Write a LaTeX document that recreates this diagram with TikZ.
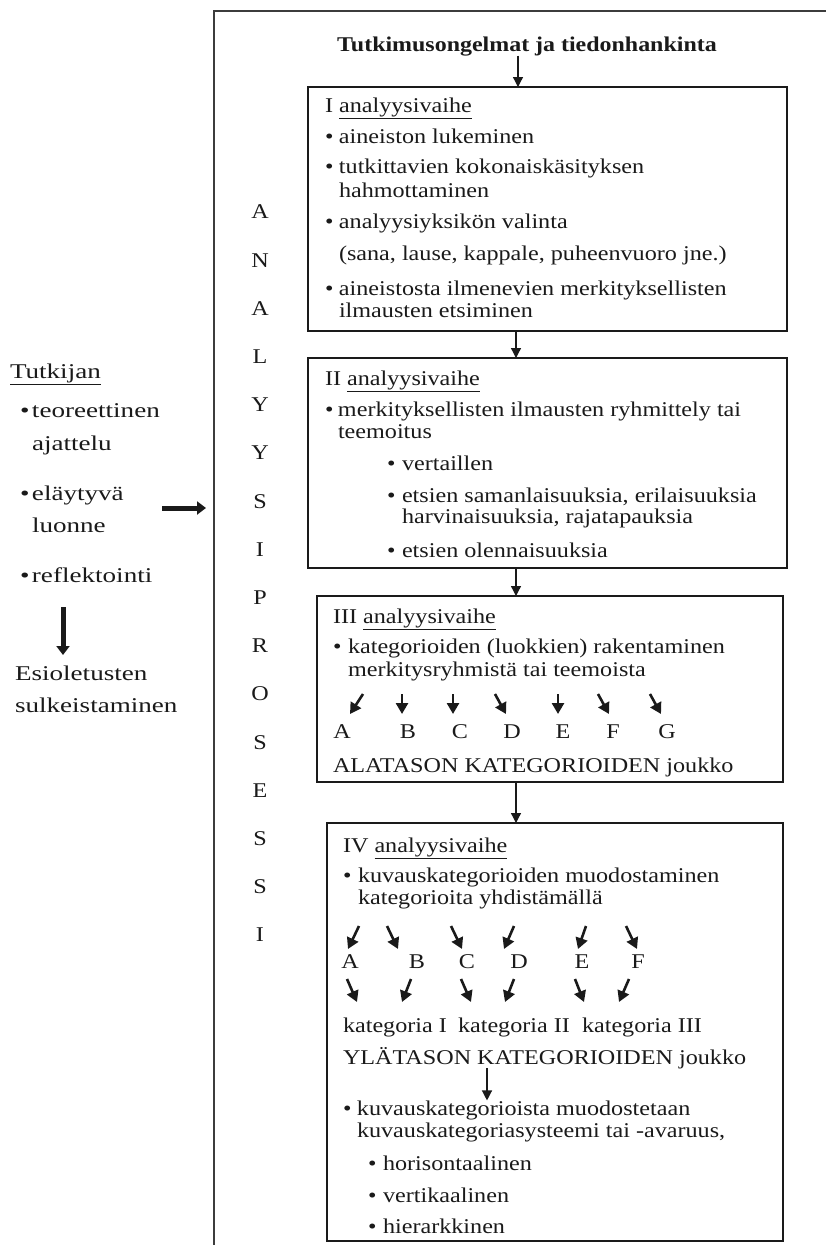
\documentclass[tikz,border=0pt]{standalone}
\usepackage{fontspec}
\setmainfont{Liberation Serif}
\newfontfamily\bodyf[FakeStretch=1.15]{Liberation Serif}
\newfontfamily\leftf[FakeStretch=1.29]{Liberation Serif}
\usetikzlibrary{arrows.meta}
\definecolor{ink}{HTML}{1A1A1A}
\newcommand{\bul}[1]{\makebox[#1pt][l]{\textbullet}}
\begin{document}
\begin{tikzpicture}[x=1pt,y=-1pt,
  txt/.style={anchor=base west,inner sep=0pt,outer sep=0pt,font=\bodyf\fontsize{21}{24}\selectfont,text=ink},
  ltxt/.style={txt,font=\leftf\fontsize{21}{24}\selectfont},
  letter/.style={anchor=base,inner sep=0pt,outer sep=0pt,font=\bodyf\fontsize{21}{24}\selectfont,text=ink},
  vl/.style={anchor=center,inner sep=0pt,outer sep=0pt,font=\bodyf\fontsize{21}{24}\selectfont,text=ink},
  phase/.style={draw=ink,line width=2.5pt,inner sep=0pt,outer sep=0pt,anchor=north west},
  flow/.style={draw=ink,line width=1.3pt,-{Triangle[length=10pt,width=10pt]}},
  small/.style={draw=ink,line width=2.6pt,-{Triangle[length=11pt,width=12pt]}},
  fat/.style={draw=ink,line width=5pt,-{Triangle[length=9pt,width=13pt]}},
]
\useasboundingbox (0,0) rectangle (826,1245);
\fill[white] (0,0) rectangle (826,1245);
\clip (0,0) rectangle (826,1245);

% outer frame (only left and top edges inside the page)
\node[draw=ink!85,line width=2.2pt,inner sep=0pt,outer sep=0pt,anchor=north west,minimum width=700,minimum height=1300] (frame) at (214,11) {};

% title
\node[anchor=base,inner sep=0pt,outer sep=0pt,font=\bfseries\fontsize{21}{24}\selectfont\addfontfeature{FakeStretch=1.14},text=ink] (title) at (527,51) {Tutkimusongelmat ja tiedonhankinta};

% phase boxes
\node[phase,minimum width=479,minimum height=244] (p1) at (308,87) {};
\node[phase,minimum width=479,minimum height=210] (p2) at (308,358) {};
\node[phase,minimum width=466,minimum height=186] (p3) at (317,596) {};
\node[phase,minimum width=456,minimum height=418] (p4) at (327,823) {};

\coordinate (cx0) at (518,0);
\coordinate (cx1) at (516,0);
\coordinate (cx2) at (487,0);
\draw[flow] (title.south -| cx0) -- (p1.north -| cx0);
\draw[flow] (p1.south -| cx1) -- (p2.north -| cx1);
\draw[flow] (p2.south -| cx1) -- (p3.north -| cx1);
\draw[flow] (p3.south -| cx1) -- (p4.north -| cx1);

% box I
\node[txt] (h1) at (325,112) {I \underline{analyysivaihe}};
\node[txt] (a1) at (325,143) {\bul{14}aineiston lukeminen};
\node[txt] (a2) at (325,173) {\bul{14}tutkittavien kokonaiskäsityksen};
\node[txt] (a3) at (339,197) {hahmottaminen};
\node[txt] (a4) at (325,228) {\bul{14}analyysiyksikön valinta};
\node[txt] (a5) at (339,260) {(sana, lause, kappale, puheenvuoro jne.)};
\node[txt] (a6) at (325,295) {\bul{14}aineistosta ilmenevien merkityksellisten};
\node[txt] (a7) at (339,317) {ilmausten etsiminen};

% box II
\node[txt] (h2) at (325,385) {II \underline{analyysivaihe}};
\node[txt] (b1) at (325,416) {\bul{13}merkityksellisten ilmausten ryhmittely tai};
\node[txt] (b2) at (338,438) {teemoitus};
\node[txt] (b3) at (387,470) {\bul{15}vertaillen};
\node[txt] (b4) at (387,502) {\bul{15}etsien samanlaisuuksia, erilaisuuksia};
\node[txt] (b5) at (402,523) {harvinaisuuksia, rajatapauksia};
\node[txt] (b6) at (387,557) {\bul{15}etsien olennaisuuksia};

% box III
\node[txt] (h3) at (333,623) {III \underline{analyysivaihe}};
\node[txt] (c1) at (333,653) {\bul{15}kategorioiden (luokkien) rakentaminen};
\node[txt] (c2) at (348,676) {merkitysryhmistä tai teemoista};
\foreach \l/\x in {A/342,B/408,C/460,D/512,E/563,F/613,G/667}
  \node[letter] (L3\l) at (\x,738) {\l};
\foreach \n/\xa/\ya/\xb/\yb in {1/363/694/350/714,2/402/694/402/714,3/453/694/453/714,4/495/694/506/714,5/558/694/558/714,6/598/694/609/714,7/650/694/661/714}{
  \coordinate (s3\n) at (\xa,\ya);
  \coordinate (e3\n) at (\xb,\yb);
  \draw[small] (s3\n) -- (e3\n);
}
\node[txt] (c3) at (333,772) {ALATASON KATEGORIOIDEN joukko};

% box IV
\node[txt] (h4) at (343,852) {IV \underline{analyysivaihe}};
\node[txt] (d1) at (343,882) {\bul{15}kuvauskategorioiden muodostaminen};
\node[txt] (d2) at (358,904) {kategorioita yhdistämällä};
\foreach \l/\x in {A/350,B/417,C/467,D/519,E/582,F/638}
  \node[letter] (L4\l) at (\x,968) {\l};
\foreach \n/\xa/\ya/\xb/\yb in {1/359/926/348/949,2/387/926/398/949,3/451/926/462/949,4/514/926/504/949,5/586/926/578/949,6/626/926/637/949}{
  \coordinate (s4\n) at (\xa,\ya);
  \coordinate (e4\n) at (\xb,\yb);
  \draw[small] (s4\n) -- (e4\n);
}
\foreach \n/\xa/\ya/\xb/\yb in {1/347/979/357/1002,2/411/979/402/1002,3/461/979/471/1002,4/514/979/505/1002,5/575/979/584/1002,6/629/979/619/1002}{
  \coordinate (s5\n) at (\xa,\ya);
  \coordinate (e5\n) at (\xb,\yb);
  \draw[small] (s5\n) -- (e5\n);
}
\node[txt] (k1) at (343,1032) {kategoria I};
\node[txt] (k2) at (458,1032) {kategoria II};
\node[txt] (k3) at (582,1032) {kategoria III};
\node[txt] (d3) at (343,1064) {YLÄTASON KATEGORIOIDEN joukko};
\node[txt] (d4) at (343,1115) {\bul{14}kuvauskategorioista muodostetaan};
\node[txt] (d5) at (357,1137) {kuvauskategoriasysteemi tai -avaruus,};
\node[txt] (d6) at (368,1170) {\bul{15}horisontaalinen};
\node[txt] (d7) at (368,1202) {\bul{15}vertikaalinen};
\node[txt] (d8) at (368,1233) {\bul{15}hierarkkinen};
\draw[flow] (d3.south -| cx2) -- (d4.north -| cx2);

% vertical word
\foreach \ch [count=\i from 0] in {A,N,A,L,Y,Y,S,I,P,R,O,S,E,S,S,I}
  \node[vl] (v\i) at (260,212+48.2*\i) {\ch};

% left column
\node[ltxt] (t0) at (10,378) {\underline{Tutkijan}};
\node[ltxt] (t1) at (20,417) {\bul{12}teoreettinen};
\node[ltxt] (t2) at (32,450) {ajattelu};
\node[ltxt] (t3) at (20,500) {\bul{12}eläytyvä};
\node[ltxt] (t4) at (32,532) {luonne};
\node[ltxt] (t5) at (20,582) {\bul{12}reflektointi};
\node[ltxt] (t6) at (15,680) {Esioletusten};
\node[ltxt] (t7) at (15,712) {sulkeistaminen};
\coordinate (dA) at (63,607);
\coordinate (dB) at (63,655);
\draw[fat] (dA) -- (dB);
\coordinate (hA) at (162,508);
\draw[fat] (hA) -- ([xshift=-8pt]hA -| frame.west);
\end{tikzpicture}
\end{document}
